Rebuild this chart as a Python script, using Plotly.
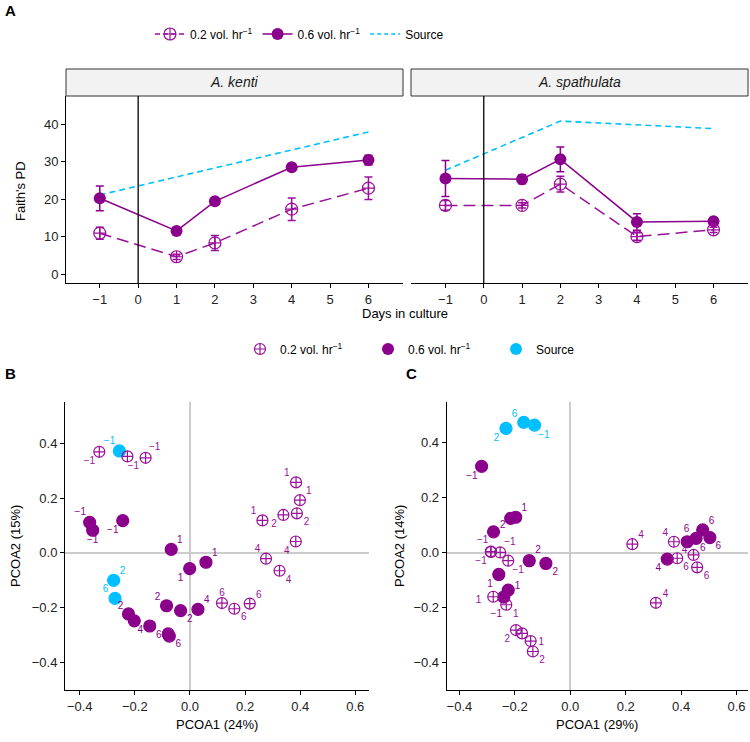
import plotly.graph_objects as go

# ---------------- Panel A data ----------------
days = [-1, 1, 2, 4, 6]
kenti_02 = [10.9, 4.6, 8.3, 17.3, 22.9]
kenti_02_se = [1.6, 0.7, 2.0, 3.0, 3.0]
kenti_06 = [20.2, 11.5, 19.4, 28.5, 30.4]
kenti_06_se = [3.3, 0.5, 0.5, 0.6, 1.3]
kenti_src_days = [-1, 6]
kenti_src = [21.1, 37.9]

spath_02 = [18.3, 18.3, 24.0, 10.0, 11.8]
spath_02_se = [1.3, 0.7, 2.1, 1.0, 0.7]
spath_06 = [25.5, 25.3, 30.6, 13.9, 14.1]
spath_06_se = [4.8, 1.2, 3.3, 2.2, 0.5]
spath_src_days = [-1, 2, 6]
spath_src = [27.7, 40.8, 38.8]

day_ticks = [-1, 0, 1, 2, 3, 4, 5, 6]
faith_ticks = [0, 10, 20, 30, 40]

# ---------------- Panel B data (A. kenti PCoA) ----------------
b_src_x = [-0.256, -0.277, -0.272]
b_src_y = [0.372, -0.101, -0.167]
b_src_day = [-1, 2, 6]
b_src_lx = [-0.292, -0.245, -0.306]
b_src_ly = [0.408, -0.067, -0.136]

b02_x = [-0.329, -0.227, -0.161, 0.385, 0.399, 0.263, 0.339, 0.388, 0.384, 0.276, 0.325, 0.116, 0.161, 0.217]
b02_y = [0.369, 0.352, 0.347, 0.257, 0.192, 0.118, 0.138, 0.144, 0.041, -0.022, -0.066, -0.184, -0.205, -0.186]
b02_day = [-1, -1, -1, 1, 1, 1, 2, 2, 4, 4, 4, 6, 6, 6]
b02_lx = [-0.365, -0.205, -0.128, 0.351, 0.431, 0.231, 0.305, 0.423, 0.351, 0.245, 0.358, 0.116, 0.195, 0.25]
b02_ly = [0.333, 0.314, 0.384, 0.288, 0.223, 0.15, 0.104, 0.111, 0.006, 0.01, -0.100, -0.148, -0.236, -0.156]

b06_x = [-0.364, -0.353, -0.244, -0.068, 0.058, -0.001, -0.223, -0.085, -0.034, -0.202, -0.146, 0.029, -0.079, -0.075]
b06_y = [0.111, 0.082, 0.117, 0.012, -0.035, -0.058, -0.224, -0.194, -0.212, -0.249, -0.268, -0.207, -0.297, -0.305]
b06_day = [-1, -1, -1, 1, 1, 1, 2, 2, 2, 4, 4, 4, 6, 6]
b06_lx = [-0.398, -0.353, -0.28, -0.037, 0.09, -0.034, -0.252, -0.118, -0.001, None, -0.18, 0.061, -0.113, -0.042]
b06_ly = [0.146, 0.044, 0.08, 0.043, -0.002, -0.094, -0.197, -0.163, -0.246, None, -0.283, -0.176, -0.302, -0.337]

# ---------------- Panel C data (A. spathulata PCoA) ----------------
c_src_x = [-0.232, -0.168, -0.129]
c_src_y = [0.452, 0.474, 0.464]
c_src_day = [2, 6, -1]
c_src_lx = [-0.266, -0.201, -0.095]
c_src_ly = [0.416, 0.504, 0.428]

c06_x = [-0.32, -0.215, -0.197, -0.277, -0.148, -0.088, -0.258, -0.224, -0.24, 0.35, 0.422, 0.454, 0.478, 0.504]
c06_y = [0.314, 0.125, 0.129, 0.076, -0.029, -0.039, -0.079, -0.136, -0.161, -0.023, 0.04, 0.052, 0.083, 0.055]
c06_day = [-1, 1, 1, 2, 2, 2, 1, 1, -1, 4, 6, 6, 6, 6]
c06_lx = [-0.355, None, -0.166, -0.244, -0.116, -0.054, -0.29, -0.19, -0.267, 0.318, 0.42, 0.478, 0.51, 0.534]
c06_ly = [0.276, None, 0.161, 0.1, 0.007, -0.073, -0.114, -0.124, -0.223, -0.057, 0.085, 0.016, 0.115, 0.022]

c02_x = [-0.287, -0.286, -0.253, -0.224, -0.278, -0.231, -0.196, -0.174, -0.143, -0.135, 0.224, 0.374, 0.386, 0.445, 0.458, 0.309]
c02_y = [0.004, 0.003, 0.001, -0.029, -0.16, -0.189, -0.281, -0.293, -0.321, -0.359, 0.031, 0.04, -0.02, -0.008, -0.053, -0.182]
c02_day = [-1, -1, -1, -1, 1, 1, 2, 2, 1, 2, 4, 4, 4, 6, 6, 4]
c02_lx = [-0.316, -0.322, -0.218, -0.188, -0.331, -0.197, -0.227, None, -0.105, -0.102, 0.255, 0.343, 0.412, 0.418, 0.492, 0.344]
c02_ly = [0.043, -0.033, 0.039, -0.065, -0.175, -0.223, -0.315, None, -0.326, -0.393, 0.064, 0.071, 0.007, -0.053, -0.087, -0.15]

pc_ticks = [-0.4, -0.2, 0.0, 0.2, 0.4, 0.6]
pc_yticks = [-0.4, -0.2, 0.0, 0.2, 0.4]

# ---------------- style ----------------
PURPLE = "#8B008B"
PURPLE2 = "#9A0F9A"
CYAN = "#00BFFF"
FONT = "Liberation Sans, Arial, sans-serif"
N02 = "0.2 vol. hr<sup>\u22121</sup>"
N06 = "0.6 vol. hr<sup>\u22121</sup>"

W, H = 750, 742
def px(x):
    return x / W
def py(y):
    return 1 - y / H

def day_label(d):
    return ("\u2212" + str(-d)) if d < 0 else str(d)

fig = go.Figure()

# ---------------- Panel A traces ----------------
for i, (xa, ya, v02, e02, v06, e06, sd, sv) in enumerate([
        ("x", "y", kenti_02, kenti_02_se, kenti_06, kenti_06_se, kenti_src_days, kenti_src),
        ("x2", "y2", spath_02, spath_02_se, spath_06, spath_06_se, spath_src_days, spath_src)]):
    fig.add_trace(go.Scatter(
        x=sd, y=sv, xaxis=xa, yaxis=ya, mode="lines", name="Source",
        line=dict(color=CYAN, width=1.6, dash="6px,4px"),
        legend="legend", showlegend=False, hoverinfo="skip"))
    fig.add_trace(go.Scatter(
        x=days, y=v06, xaxis=xa, yaxis=ya, mode="lines+markers", name=N06,
        line=dict(color=PURPLE, width=1.5),
        marker=dict(color=PURPLE, size=12, symbol="circle"),
        error_y=dict(type="data", array=e06, color=PURPLE, thickness=1.5, width=4),
        legend="legend", showlegend=False, hoverinfo="skip"))
    fig.add_trace(go.Scatter(
        x=days, y=v02, xaxis=xa, yaxis=ya, mode="lines+markers", name=N02,
        line=dict(color=PURPLE2, width=1.5, dash="12px,6px"),
        marker=dict(color=PURPLE2, size=12, symbol="circle-cross-open", line=dict(width=1.2)),
        error_y=dict(type="data", array=e02, color=PURPLE2, thickness=1.5, width=4),
        legend="legend", showlegend=False, hoverinfo="skip"))

# legend-only entries for panel A (ordered)
fig.add_trace(go.Scatter(x=[None], y=[None], mode="lines+markers", name=N02,
                         line=dict(color=PURPLE2, width=1.5, dash="5px,3px"),
                         marker=dict(color=PURPLE2, size=12, symbol="circle-cross-open", line=dict(width=1.2)),
                         legend="legend", showlegend=True))
fig.add_trace(go.Scatter(x=[None], y=[None], mode="lines+markers", name=N06,
                         line=dict(color=PURPLE, width=1.5),
                         marker=dict(color=PURPLE, size=12, symbol="circle"),
                         legend="legend", showlegend=True))
fig.add_trace(go.Scatter(x=[None], y=[None], mode="lines", name="Source",
                         line=dict(color=CYAN, width=1.6, dash="4px,3px"),
                         legend="legend", showlegend=True))

# ---------------- Panels B & C traces ----------------
def add_pcoa(xa, ya, groups):
    for (xs, ys, ds, lxs, lys, color, symbol, size, name) in groups:
        fig.add_trace(go.Scatter(
            x=xs, y=ys, xaxis=xa, yaxis=ya, mode="markers", name=name,
            marker=dict(color=color, size=size, symbol=symbol,
                        line=dict(width=1.2, color=color)),
            legend="legend2", showlegend=False, hoverinfo="skip"))
        tx = [lx for lx in lxs if lx is not None]
        ty = [ly for ly in lys if ly is not None]
        tt = [day_label(d) for d, lx in zip(ds, lxs) if lx is not None]
        fig.add_trace(go.Scatter(
            x=tx, y=ty, xaxis=xa, yaxis=ya, mode="text", text=tt,
            textfont=dict(color=color, size=10, family=FONT),
            showlegend=False, hoverinfo="skip"))

add_pcoa("x3", "y3", [
    (b_src_x, b_src_y, b_src_day, b_src_lx, b_src_ly, CYAN, "circle", 12, "Source"),
    (b06_x, b06_y, b06_day, b06_lx, b06_ly, PURPLE, "circle", 12, N06),
    (b02_x, b02_y, b02_day, b02_lx, b02_ly, PURPLE2, "circle-cross-open", 11, N02),
])
add_pcoa("x4", "y4", [
    (c_src_x, c_src_y, c_src_day, c_src_lx, c_src_ly, CYAN, "circle", 12, "Source"),
    (c06_x, c06_y, c06_day, c06_lx, c06_ly, PURPLE, "circle", 12, N06),
    (c02_x, c02_y, c02_day, c02_lx, c02_ly, PURPLE2, "circle-cross-open", 11, N02),
])

# legend2 entries (ordered)
fig.add_trace(go.Scatter(x=[None], y=[None], mode="markers", name=N02,
                         marker=dict(color=PURPLE2, size=11, symbol="circle-cross-open", line=dict(width=1.2)),
                         legend="legend2", showlegend=True))
fig.add_trace(go.Scatter(x=[None], y=[None], mode="markers", name=N06,
                         marker=dict(color=PURPLE, size=12, symbol="circle"),
                         legend="legend2", showlegend=True))
fig.add_trace(go.Scatter(x=[None], y=[None], mode="markers", name="Source",
                         marker=dict(color=CYAN, size=12, symbol="circle"),
                         legend="legend2", showlegend=True))

# ---------------- axes ----------------
tickfont = dict(size=13, color="#222222", family=FONT)
base_ax = dict(showgrid=False, zeroline=False, showline=True, linecolor="black", linewidth=1,
               ticks="outside", ticklen=4, tickcolor="black", tickwidth=1, tickfont=tickfont)

yA_dom = [py(283), py(96)]
fig.update_layout(
    xaxis=dict(base_ax, domain=[px(66), px(403)], range=[-1.88, 6.9], tickvals=day_ticks, anchor="y"),
    yaxis=dict(base_ax, domain=yA_dom, range=[-2.4, 47.5], tickvals=faith_ticks, anchor="x"),
    xaxis2=dict(base_ax, domain=[px(411), px(748)], range=[-1.9, 6.9], tickvals=day_ticks, anchor="y2"),
    yaxis2=dict(base_ax, domain=yA_dom, range=[-2.4, 47.5], tickvals=faith_ticks, anchor="x2",
                showline=False, ticks="", showticklabels=False),
    xaxis3=dict(base_ax, domain=[px(65), px(369)], range=[-0.4535, 0.6497], tickvals=pc_ticks,
                tickformat=".1f", anchor="y3", zeroline=True, zerolinecolor="#cccccc", zerolinewidth=1.5),
    yaxis3=dict(base_ax, domain=[py(690), py(402)], range=[-0.502, 0.551], tickvals=pc_yticks,
                tickformat=".1f", anchor="x3", zeroline=True, zerolinecolor="#cccccc", zerolinewidth=1.5),
    xaxis4=dict(base_ax, domain=[px(446.7), px(748)], range=[-0.446, 0.6415], tickvals=pc_ticks,
                tickformat=".1f", anchor="y4", zeroline=True, zerolinecolor="#cccccc", zerolinewidth=1.5),
    yaxis4=dict(base_ax, domain=[py(690), py(402)], range=[-0.499, 0.548], tickvals=pc_yticks,
                tickformat=".1f", anchor="x4", zeroline=True, zerolinecolor="#cccccc", zerolinewidth=1.5),
)

# ---------------- shapes: strips & vlines ----------------
shapes = []
for x0, x1 in [(66, 403), (411, 748)]:
    shapes.append(dict(type="rect", xref="paper", yref="paper", x0=px(x0), x1=px(x1),
                       y0=py(96), y1=py(69), fillcolor="#F2F2F2",
                       line=dict(color="#333333", width=1), layer="above"))
for xr, yr in [("x", "y"), ("x2", "y2")]:
    shapes.append(dict(type="line", xref=xr, yref=yr + " domain", x0=0, x1=0, y0=0, y1=1,
                       line=dict(color="black", width=1.3)))

# ---------------- annotations ----------------
ann = []
def text(x, y, s, size=13, **kw):
    ann.append(dict(x=px(x), y=py(y), xref="paper", yref="paper", text=s, showarrow=False,
                    xanchor="center", yanchor="middle",
                    font=dict(size=size, color=kw.pop("color", "black"), family=FONT), **kw))

text(10, 11, "<b>A</b>", 15)
text(10, 373, "<b>B</b>", 15)
text(411, 373, "<b>C</b>", 15)
text(234.5, 82.5, "<i>A. kenti</i>", 14, color="#1a1a1a")
text(579.5, 82.5, "<i>A. spathulata</i>", 14, color="#1a1a1a")
text(405, 313, "Days in culture", 13)
text(20, 191, "Faith's PD", 13, textangle=-90)
text(217, 724, "PCOA1 (24%)", 13)
text(15, 546, "PCOA2 (15%)", 13, textangle=-90)
text(597, 724, "PCOA1 (29%)", 13)
text(399, 546, "PCOA2 (14%)", 13, textangle=-90)

fig.update_layout(
    width=W, height=H, margin=dict(l=0, r=0, t=0, b=0),
    paper_bgcolor="white", plot_bgcolor="white",
    font=dict(family=FONT, size=12, color="black"),
    shapes=shapes, annotations=ann,
    legend=dict(orientation="h", x=px(150), y=py(34), xanchor="left", yanchor="middle",
                font=dict(size=12, family=FONT), bgcolor="rgba(0,0,0,0)", traceorder="normal"),
    legend2=dict(orientation="h", x=px(240), y=py(349), xanchor="left", yanchor="middle",
                 font=dict(size=12, family=FONT), bgcolor="rgba(0,0,0,0)", traceorder="normal",
                 entrywidth=83),
    showlegend=True,
)

fig.write_html("out.html")
